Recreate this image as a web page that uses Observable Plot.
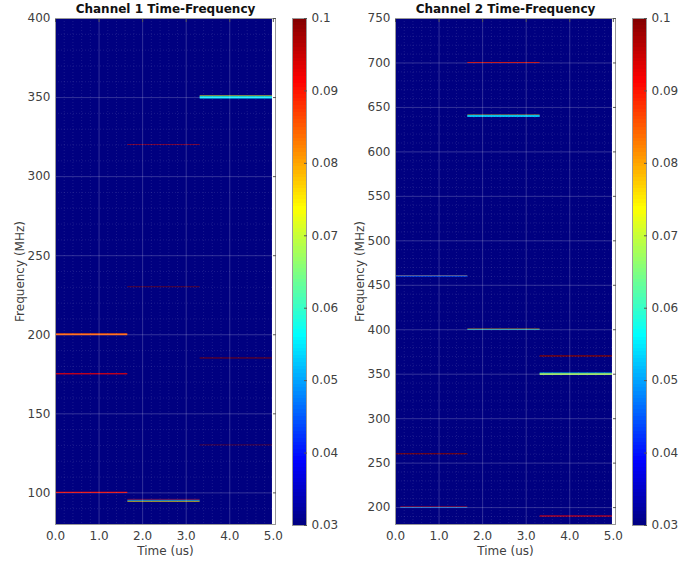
<!DOCTYPE html>
<html><head><meta charset="utf-8">
<script src="https://cdn.jsdelivr.net/npm/d3@7"></script>
<script src="https://cdn.jsdelivr.net/npm/@observablehq/plot@0.6"></script>
<style>
body{margin:0;background:#fff;}
#root{position:relative;width:698px;height:565px;font-family:"DejaVu Sans",sans-serif;}
#root svg{position:absolute;top:0;overflow:visible;}
</style></head><body><div id="root"></div>
<script>
// ---- data ----
const titles = ["Channel 1 Time-Frequency", "Channel 2 Time-Frequency"];
const timeExtent = [0, 4.98];
const timeAxisMax = 5.05;
const timeTicks = [0, 1, 2, 3, 4, 5];
const freqExtents = [[80, 400], [181, 750]];
const freqTicks = [[100, 150, 200, 250, 300, 350, 400], [200, 250, 300, 350, 400, 450, 500, 550, 600, 650, 700, 750]];
const baselinePower = 0.03;
const powerTicks = [0.03, 0.04, 0.05, 0.06, 0.07, 0.08, 0.09, 0.1];

const ch1Freq = [350.7, 349.8, 320, 230, 200, 175, 185, 130, 100, 95.7, 95, 94.4];
const ch1Start = [3.32, 3.32, 1.66, 1.66, 0, 0, 3.32, 3.32, 0, 1.66, 1.66, 1.66];
const ch1End = [4.98, 4.98, 3.32, 3.32, 1.66, 1.66, 4.98, 4.98, 1.66, 3.32, 3.32, 3.32];
const ch1Power = [0.072, 0.055, 0.095, 0.1, 0.085, 0.092, 0.1, 0.1, 0.093, 0.09, 0.05, 0.075];
const ch1Bandwidth = [0.6, 1.4, 0.35, 0.4, 1.2, 0.7, 0.6, 0.35, 0.8, 0.3, 0.5, 0.45];

const ch2Freq = [700, 640.9, 639.8, 460.6, 459.8, 400.4, 399.7, 370, 350.8, 349.6, 260, 200.3, 199.6, 190];
const ch2Start = [1.66, 1.66, 1.66, 0, 0, 1.66, 1.66, 3.32, 3.32, 3.32, 0, 0.12, 0.12, 3.32];
const ch2End = [3.32, 3.32, 3.32, 1.66, 1.66, 3.32, 3.32, 4.98, 4.98, 4.98, 1.66, 1.66, 1.66, 4.98];
const ch2Power = [0.095, 0.075, 0.053, 0.082, 0.045, 0.078, 0.058, 0.1, 0.055, 0.068, 0.1, 0.09, 0.05, 0.093];
const ch2Bandwidth = [1.1, 0.8, 2, 0.7, 1.2, 0.5, 0.6, 1.5, 0.9, 1.8, 1.2, 0.5, 0.6, 1.2];

// ---- build ----
const pMin = powerTicks[0], pMax = powerTicks[powerTicks.length - 1];
const jetStops = [0, 0.125, 0.375, 0.625, 0.875, 1];
const jetColors = ["#000080", "#0000ff", "#00ffff", "#ffff00", "#ff0000", "#800000"];
const colorOpts = {type: "linear", domain: jetStops.map(s => pMin + s * (pMax - pMin)), range: jetColors, interpolate: "rgb", clamp: true};

function segs(f, s, e, p, b) { return f.map((d, i) => ({f: d, t0: s[i], t1: e[i], p: p[i], bw: b[i]})); }
const channels = [
  segs(ch1Freq, ch1Start, ch1End, ch1Power, ch1Bandwidth),
  segs(ch2Freq, ch2Start, ch2End, ch2Power, ch2Bandwidth)
];
const minorX = d3.range(0, 5.01, 0.2).filter(v => Math.abs(v - Math.round(v)) > 1e-6);
const root = document.getElementById("root");
const style = {fontFamily: "DejaVu Sans, sans-serif", fontSize: "12px", color: "#404040", background: "transparent", overflow: "visible"};

channels.forEach((data, k) => {
  const fx = freqExtents[k];
  const minorY = d3.range(Math.ceil(fx[0] / 10) * 10, fx[1] + 0.1, 10).filter(v => v % 50 !== 0);
  const main = Plot.plot({
    width: 290, height: 565,
    marginLeft: 55, marginRight: 15, marginTop: 18, marginBottom: 41,
    style,
    x: {domain: [0, timeAxisMax]},
    y: {domain: fx},
    color: colorOpts,
    marks: [
      Plot.rect([0], {x1: () => timeExtent[0], x2: () => timeExtent[1], y1: () => fx[0], y2: () => fx[1], fill: () => baselinePower}),
      Plot.rect(data, {x1: "t0", x2: "t1", y1: d => d.f - d.bw / 2, y2: d => d.f + d.bw / 2, fill: "p"}),
      Plot.gridX({ticks: minorX, stroke: "#fff", strokeOpacity: 0.1, strokeDasharray: "1,2"}),
      Plot.gridY({ticks: minorY, stroke: "#fff", strokeOpacity: 0.1, strokeDasharray: "1,2"}),
      Plot.gridX({ticks: timeTicks.slice(1, -1), stroke: "#fff", strokeOpacity: 0.2}),
      Plot.gridY({ticks: freqTicks[k], stroke: "#fff", strokeOpacity: 0.2}),
      Plot.frame({stroke: "#999"}),
      Plot.axisX({ticks: timeTicks, tickFormat: d3.format(".1f"), tickSize: 0, tickPadding: 7, label: null}),
      Plot.axisX({anchor: "top", ticks: timeTicks, tickSize: 3, dy: 3, tickFormat: () => "", label: null, stroke: "#555"}),
      Plot.axisY({ticks: freqTicks[k], tickSize: 0, tickPadding: 5, label: null}),
      Plot.axisY({anchor: "right", ticks: freqTicks[k], tickSize: 3, dx: -3, tickFormat: () => "", label: null, stroke: "#555"}),
      Plot.text([titles[k]], {frameAnchor: "top", dy: -9, textAnchor: "middle", lineAnchor: "middle", fontWeight: "bold", fill: "#111", fontSize: 12}),
      Plot.text(["Time (us)"], {frameAnchor: "bottom", dy: 27, textAnchor: "middle", lineAnchor: "middle", fontSize: 12}),
      Plot.text(["Frequency (MHz)"], {frameAnchor: "left", dx: -35, rotate: -90, textAnchor: "middle", lineAnchor: "middle", fontSize: 12})
    ]
  });
  main.style.left = (k * 340) + "px";
  root.appendChild(main);

  const step = 0.0005;
  const ramp = d3.range(pMin, pMax, step);
  const bar = Plot.plot({
    width: 70, height: 565,
    marginLeft: 12, marginRight: 44, marginTop: 18, marginBottom: 40,
    style,
    y: {domain: [pMin, pMax]},
    color: colorOpts,
    marks: [
      Plot.rect(ramp, {y1: d => d, y2: d => Math.min(pMax, d + step * 1.6), fill: d => d + step / 2, shapeRendering: "crispEdges"}),
      Plot.frame({stroke: "#999"}),
      Plot.axisY({anchor: "right", ticks: powerTicks, tickSize: 0, tickPadding: 5, tickFormat: d3.format("~g"), label: null}),
      Plot.axisY({anchor: "right", ticks: powerTicks, tickSize: 3, dx: -3, tickFormat: () => "", label: null, stroke: "#555"})
    ]
  });
  bar.style.left = (280 + k * 340) + "px";
  root.appendChild(bar);
});
</script>
</body></html>
